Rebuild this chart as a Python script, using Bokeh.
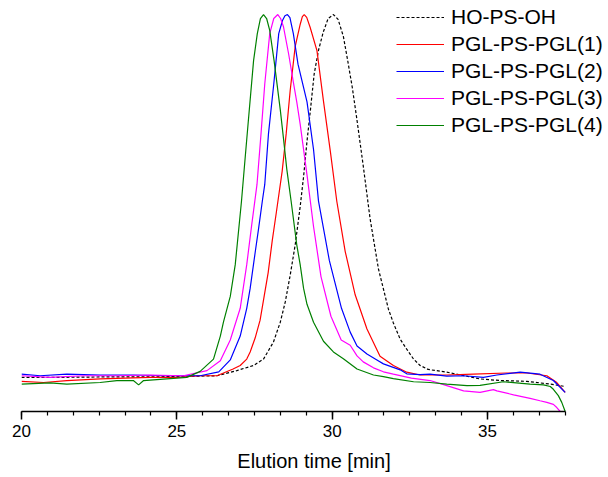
from bokeh.plotting import figure
from bokeh.models import Range1d, SingleIntervalTicker, Legend, LegendItem
from bokeh.embed import file_html
from bokeh.resources import INLINE

# ---- data (elution time [min], normalized detector signal) ----
black_x = [20.0, 21.25, 22.53, 23.82, 25.0, 26.29, 26.93, 27.47, 27.79, 28.11, 28.33, 28.49, 28.65, 28.81, 28.97,
           29.08, 29.19, 29.30, 29.42, 29.56, 29.71, 29.87, 30.04, 30.19, 30.36, 30.50, 30.65, 30.79, 31.01, 31.22,
           31.49, 31.81, 31.97, 32.19, 32.40, 32.62, 32.83, 33.09, 33.69, 34.76, 35.41, 36.27, 37.02, 37.50]
black_y = [0.086, 0.086, 0.087, 0.087, 0.088, 0.090, 0.103, 0.116, 0.132, 0.175, 0.225, 0.276, 0.344, 0.420, 0.516,
           0.592, 0.681, 0.760, 0.850, 0.910, 0.955, 0.990, 1.0, 0.988, 0.945, 0.884, 0.815, 0.739, 0.613, 0.486,
           0.359, 0.258, 0.223, 0.182, 0.157, 0.132, 0.116, 0.106, 0.099, 0.082, 0.078, 0.076, 0.069, 0.063]

red_x = [20.0, 20.71, 21.46, 22.53, 24.14, 25.0, 25.75, 26.29, 26.81, 27.04, 27.25, 27.36, 27.52, 27.68, 27.81,
         27.94, 28.07, 28.20, 28.39, 28.52, 28.65, 28.81, 28.97, 29.04, 29.10, 29.18, 29.29, 29.51, 29.72, 29.94,
         30.15, 30.42, 30.74, 31.12, 31.54, 31.97, 32.40, 32.83, 33.69, 34.54, 35.62, 36.27, 36.91, 37.23, 37.50]
red_y = [0.076, 0.073, 0.078, 0.082, 0.086, 0.086, 0.090, 0.090, 0.107, 0.116, 0.132, 0.150, 0.185, 0.230, 0.290,
         0.350, 0.430, 0.500, 0.605, 0.700, 0.810, 0.920, 0.975, 0.995, 1.0, 0.993, 0.968, 0.909, 0.782, 0.656,
         0.529, 0.403, 0.294, 0.208, 0.139, 0.116, 0.099, 0.092, 0.092, 0.094, 0.097, 0.097, 0.090, 0.073, 0.048]

blue_x = [20.0, 20.60, 21.46, 22.53, 23.60, 24.68, 25.75, 26.35, 26.72, 27.04, 27.25, 27.36, 27.52, 27.63, 27.75,
          27.83, 27.95, 28.12, 28.28, 28.40, 28.48, 28.56, 28.64, 28.75, 28.90, 29.19, 29.40, 29.56, 29.91, 30.30,
          30.58, 30.80, 31.12, 31.44, 31.65, 32.19, 32.40, 32.83, 33.15, 33.69, 34.23, 34.87, 35.30, 36.05, 36.69,
          37.12, 37.50]
blue_y = [0.094, 0.090, 0.094, 0.092, 0.092, 0.090, 0.090, 0.100, 0.130, 0.190, 0.260, 0.310, 0.400, 0.460, 0.529,
          0.572, 0.700, 0.825, 0.952, 0.985, 0.997, 1.0, 0.992, 0.952, 0.875, 0.780, 0.660, 0.530, 0.380, 0.260,
          0.200, 0.165, 0.145, 0.130, 0.120, 0.105, 0.095, 0.093, 0.094, 0.089, 0.090, 0.086, 0.092, 0.099, 0.094,
          0.078, 0.048]

magenta_x = [20.0, 20.92, 22.00, 23.07, 24.14, 25.21, 25.97, 26.40, 26.72, 27.04, 27.25, 27.41, 27.51, 27.58, 27.71,
             27.83, 27.99, 28.12, 28.25, 28.34, 28.43, 28.60, 28.75, 28.86, 28.97, 29.20, 29.40, 29.64, 29.96, 30.29,
             30.58, 30.80, 31.00, 31.33, 31.65, 31.97, 32.55, 33.15, 33.69, 34.23, 34.76, 35.19, 35.30, 35.84, 36.37,
             36.69, 36.91, 37.12, 37.23, 37.34]
magenta_y = [0.090, 0.086, 0.090, 0.090, 0.092, 0.090, 0.103, 0.128, 0.180, 0.260, 0.370, 0.470, 0.530, 0.572, 0.700,
             0.825, 0.952, 0.990, 1.0, 0.990, 0.970, 0.900, 0.830, 0.780, 0.724, 0.590, 0.466, 0.340, 0.240, 0.180,
             0.167, 0.140, 0.125, 0.110, 0.100, 0.094, 0.084, 0.078, 0.065, 0.052, 0.048, 0.055, 0.052, 0.042, 0.033,
             0.027, 0.023, 0.018, 0.010, 0.0]

green_x = [20.0, 20.92, 21.46, 22.53, 23.07, 23.60, 23.77, 23.93, 24.46, 25.0, 25.32, 25.75, 26.18, 26.40, 26.50,
           26.72, 26.88, 27.08, 27.20, 27.31, 27.47, 27.59, 27.69, 27.79, 27.89, 27.99, 28.13, 28.33, 28.43, 28.54,
           28.68, 28.86, 28.97, 29.08, 29.19, 29.40, 29.72, 30.04, 30.36, 30.80, 31.33, 31.65, 31.97, 32.62, 33.15,
           33.69, 34.34, 34.76, 35.51, 36.37, 36.80, 37.02, 37.12, 37.28, 37.39, 37.50]
green_y = [0.069, 0.072, 0.069, 0.073, 0.078, 0.078, 0.067, 0.078, 0.081, 0.084, 0.086, 0.101, 0.132, 0.190, 0.225,
           0.290, 0.370, 0.529, 0.640, 0.740, 0.884, 0.952, 0.990, 1.0, 0.990, 0.960, 0.884, 0.760, 0.690, 0.610,
           0.529, 0.420, 0.370, 0.310, 0.270, 0.225, 0.177, 0.150, 0.133, 0.107, 0.092, 0.088, 0.083, 0.075, 0.073,
           0.069, 0.065, 0.066, 0.075, 0.069, 0.067, 0.063, 0.056, 0.040, 0.023, 0.0]

series_labels = ["HO-PS-OH", "PGL-PS-PGL(1)", "PGL-PS-PGL(2)", "PGL-PS-PGL(3)", "PGL-PS-PGL(4)"]
x_axis_start, x_axis_end = 20, 37.5
x_ticks_interval = 5
x_title = "Elution time [min]"

FONT = "Liberation Sans"

p = figure(width=606, height=475, x_range=Range1d(20, 38.83), y_range=Range1d(0, 1.0354),
           output_backend="svg", toolbar_location=None, y_axis_location=None,
           min_border_left=21, min_border_right=0, min_border_top=0, min_border_bottom=64)
p.outline_line_color = None
p.grid.visible = False
p.background_fill_color = "white"

specs = [
    (black_x, black_y, "black", "3 2"),
    (red_x, red_y, "#FF0000", "solid"),
    (blue_x, blue_y, "#0000FF", "solid"),
    (magenta_x, magenta_y, "#FF00FF", "solid"),
    (green_x, green_y, "#008000", "solid"),
]
renderers = []
for xs, ys, col, dash in specs:
    r = p.line(xs, ys, line_color=col, line_width=1.2, line_dash=dash)
    renderers.append(r)

ax = p.xaxis[0]
ax.bounds = (x_axis_start, x_axis_end)
ax.ticker = SingleIntervalTicker(interval=x_ticks_interval, num_minor_ticks=6)
ax.axis_label = x_title
ax.axis_label_text_font = FONT
ax.axis_label_text_font_size = "20px"
ax.axis_label_text_font_style = "normal"
ax.axis_label_text_color = "black"
ax.axis_label_standoff = 10
ax.major_label_text_font = FONT
ax.major_label_text_font_size = "17px"
ax.major_label_text_color = "black"
ax.major_label_standoff = 5
ax.axis_line_width = 1.5
ax.axis_line_color = "black"
ax.major_tick_line_width = 1.5
ax.minor_tick_line_width = 1.2
ax.major_tick_line_color = "black"
ax.minor_tick_line_color = "black"
ax.major_tick_in = 0
ax.major_tick_out = 8
ax.minor_tick_in = 0
ax.minor_tick_out = 4

legend = Legend(items=[LegendItem(label=lab, renderers=[r]) for lab, r in zip(series_labels, renderers)],
                location=(375, 274), border_line_color=None, background_fill_alpha=0,
                padding=0, margin=0, spacing=3, glyph_width=48, glyph_height=24, label_height=24,
                label_standoff=7, label_text_font=FONT, label_text_font_size="21px",
                label_text_color="black")
p.add_layout(legend)

open("out.html", "w").write(file_html(p, INLINE))
